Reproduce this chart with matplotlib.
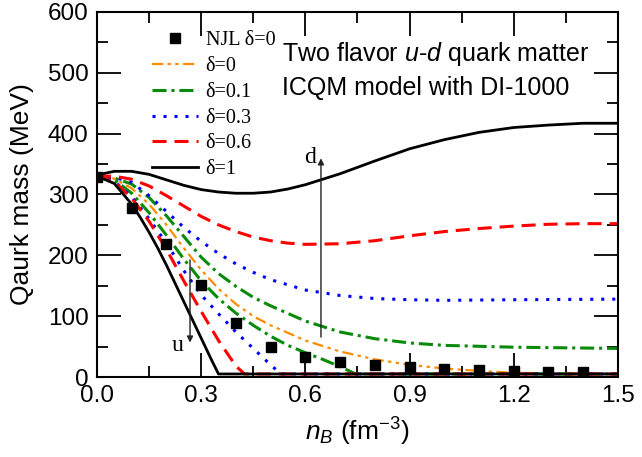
import numpy as np
import matplotlib
matplotlib.use('Agg')
import matplotlib.pyplot as plt

plt.rcParams['font.family'] = ['Liberation Sans', 'DejaVu Sans']
plt.rcParams['mathtext.fontset'] = 'custom'
plt.rcParams['mathtext.rm'] = 'Liberation Sans'
plt.rcParams['mathtext.it'] = 'Liberation Sans:italic'

# NJL delta=0 points
njl_n = [0.0, 0.1, 0.2, 0.3, 0.4, 0.5, 0.6, 0.7, 0.8, 0.9, 1.0, 1.1, 1.2, 1.3, 1.4]
njl_m = [329, 278, 218, 152, 88, 50, 33, 25, 19, 16, 13, 11, 10, 9, 8]

# delta=0 (u = d)
n0 = [0.0, 0.05, 0.1, 0.15, 0.2, 0.25, 0.3, 0.35, 0.4, 0.45, 0.5, 0.6, 0.7, 0.8, 0.9, 1.0, 1.1, 1.2, 1.3, 1.4, 1.5]
m0 = [330, 326, 310, 284, 250, 212, 176, 145, 120, 100, 85, 60, 42, 29, 20, 14, 10, 7, 6, 5, 5]

# delta=0.1
n01_d = [0.0, 0.05, 0.1, 0.15, 0.2, 0.25, 0.3, 0.35, 0.4, 0.45, 0.5, 0.6, 0.7, 0.8, 0.9, 1.0, 1.2, 1.5]
m01_d = [330, 327, 317, 295, 265, 231, 197, 170, 149, 131, 117, 92, 74, 63, 56, 52, 49, 47]
n01_u = [0.0, 0.05, 0.1, 0.15, 0.2, 0.25, 0.3, 0.35, 0.4, 0.45, 0.5, 0.55, 0.6, 0.65, 0.7, 0.745, 1.5]
m01_u = [330, 324, 302, 270, 233, 194, 158, 129, 105, 85, 67, 52, 40, 29, 17, 5, 5]

# delta=0.3
n03_d = [0.0, 0.05, 0.1, 0.15, 0.2, 0.25, 0.3, 0.35, 0.4, 0.45, 0.5, 0.6, 0.7, 0.8, 0.9, 1.0, 1.2, 1.5]
m03_d = [330, 328, 320, 298, 272, 246, 223, 203, 186, 172, 160, 143, 134, 129, 127, 126, 127, 128]
n03_u = [0.0, 0.05, 0.1, 0.15, 0.2, 0.25, 0.3, 0.35, 0.4, 0.45, 0.5, 0.53, 1.5]
m03_u = [330, 322, 296, 260, 220, 175, 135, 104, 74, 47, 20, 5, 5]

# delta=0.6
n06_d = [0.0, 0.05, 0.1, 0.15, 0.2, 0.25, 0.3, 0.35, 0.4, 0.45, 0.5, 0.55, 0.6, 0.7, 0.8, 0.9, 1.0, 1.1, 1.2, 1.3, 1.4, 1.5]
m06_d = [330, 330, 325, 314, 298, 281, 264, 250, 239, 230, 224, 220, 218, 219, 224, 232, 239, 244, 248, 251, 252, 252]
n06_u = [0.0, 0.05, 0.1, 0.15, 0.2, 0.25, 0.3, 0.35, 0.4, 0.425, 1.5]
m06_u = [330, 321, 294, 256, 210, 158, 108, 60, 18, 5, 5]

# delta=1
n1_d = [0.0, 0.05, 0.1, 0.15, 0.2, 0.25, 0.3, 0.35, 0.4, 0.45, 0.5, 0.55, 0.6, 0.7, 0.8, 0.9, 1.0, 1.1, 1.2, 1.3, 1.4, 1.5]
m1_d = [332, 338, 338, 333, 324, 315, 308, 304, 302, 302, 304, 309, 316, 334, 355, 375, 390, 402, 410, 414, 417, 417]
n1_u = [0.0, 0.05, 0.1, 0.125, 0.15, 0.175, 0.2, 0.25, 0.3, 0.33, 0.35, 1.5]
m1_u = [330, 318, 284, 262, 238, 212, 184, 124, 64, 28, 5, 5]

fig = plt.figure(figsize=(6.42, 4.57), dpi=100)
ax = fig.add_axes([0.151, 0.175, 0.8115, 0.799])

orange = '#ff8c00'
green = '#0a8a0a'
blue = '#0000ff'
red = '#ff0000'

ls_orange = (0, (5, 2, 1.5, 2, 1.5, 2))
ls_green = (0, (4.6, 1.6, 1, 1.6))
ls_blue = (0, (1, 2.6))
ls_red = (0, (4.6, 2.6))

ax.plot(njl_n, njl_m, 's', color='k', ms=7, ls='none', label='NJL δ=0', zorder=5)
ax.plot(n0, m0, color=orange, lw=1.6, ls=ls_orange, label='δ=0')
ax.plot(n01_d, m01_d, color=green, lw=2.2, ls=ls_green, label='δ=0.1')
ax.plot(n01_u, m01_u, color=green, lw=2.2, ls=ls_green)
ax.plot(n03_d, m03_d, color=blue, lw=2.2, ls=ls_blue, label='δ=0.3')
ax.plot(n03_u, m03_u, color=blue, lw=2.2, ls=ls_blue)
ax.plot(n06_d, m06_d, color=red, lw=2.2, ls=ls_red, label='δ=0.6')
ax.plot(n06_u, m06_u, color=red, lw=2.2, ls=ls_red)
ax.plot(n1_d, m1_d, color='k', lw=2.0, label='δ=1')
ax.plot(n1_u, m1_u, color='k', lw=2.0)

# arrows
ax.annotate('', xy=(0.268, 52), xytext=(0.268, 197),
            arrowprops=dict(arrowstyle='-|>', color='#222222', lw=1.0, mutation_scale=9))
ax.text(0.233, 52, 'u', family='Liberation Serif', fontsize=17, ha='center', va='center')
ax.annotate('', xy=(0.645, 364), xytext=(0.645, 61),
            arrowprops=dict(arrowstyle='-|>', color='#222222', lw=1.0, mutation_scale=9))
ax.text(0.614, 360, 'd', family='Liberation Serif', fontsize=17, ha='center', va='center')

ax.text(0.533, 530, 'Two flavor $\\it{u}$-$\\it{d}$ quark matter', fontsize=18, va='center')
ax.text(0.533, 475, 'ICQM model with DI-1000', fontsize=18, va='center')

ax.set_xlim(0, 1.5)
ax.set_ylim(0, 600)
ax.set_xticks(np.arange(0, 1.51, 0.3))
ax.set_xticks(np.arange(0, 1.51, 0.15), minor=True)
ax.set_yticks(np.arange(0, 601, 100))
ax.set_yticks(np.arange(0, 601, 50), minor=True)
ax.set_xticklabels(['0.0', '0.3', '0.6', '0.9', '1.2', '1.5'])
ax.tick_params(which='both', direction='in', top=True, right=True, labelsize=17.5, width=1.3)
ax.tick_params(which='major', length=17, pad=6)
ax.tick_params(which='minor', length=8)
for s in ax.spines.values():
    s.set_linewidth(1.5)

ax.set_xlabel('$n_B$ (fm$^{-3}$)', fontsize=19, labelpad=6)
ax.set_ylabel('Qaurk mass (MeV)', fontsize=19, labelpad=10)

ax.legend(loc='upper left', bbox_to_anchor=(0.106, 0.947), frameon=False,
          prop={'family': 'Liberation Serif', 'size': 14.5}, handlelength=2.3,
          handletextpad=0.35, labelspacing=0.33, borderpad=0, borderaxespad=0)

fig.savefig('out.png', dpi=100)
